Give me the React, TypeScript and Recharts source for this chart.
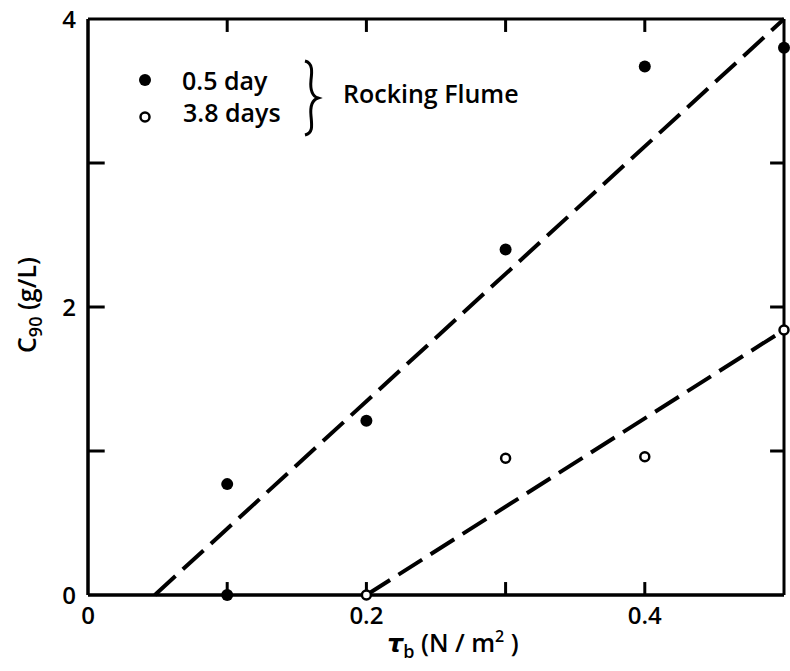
import React from 'react';
import { ComposedChart, XAxis, YAxis, Scatter, Line, ReferenceLine } from 'recharts';

const xTicks = [0.1, 0.2, 0.3, 0.4];
const xLabelTicks = [0, 0.2, 0.4];
const yTicks = [1, 2, 3];
const yLabelTicks = [0, 2, 4];

const halfDayX = [0.1, 0.1, 0.2, 0.3, 0.4, 0.5];
const halfDayY = [0, 0.77, 1.21, 2.4, 3.67, 3.8];
const days38X = [0.2, 0.3, 0.4, 0.5];
const days38Y = [0, 0.95, 0.96, 1.84];
const fitHalfX = [0.048, 0.5];
const fitHalfY = [0, 4];
const fit38X = [0.2, 0.5];
const fit38Y = [0, 1.84];

const zip = (xs: number[], ys: number[]) => xs.map((x, i) => ({ x, y: ys[i] }));
const halfDay = zip(halfDayX, halfDayY);
const days38 = zip(days38X, days38Y);
const fitHalf = zip(fitHalfX, fitHalfY);
const fit38 = zip(fit38X, fit38Y);

const FONT = '"Open Sans", "Liberation Sans", Arial, sans-serif';

const FilledDot = (p: any) => <circle cx={p.cx} cy={p.cy} r={6} fill="#000" />;
const OpenDot = (p: any) => (
  <circle cx={p.cx} cy={p.cy} r={4.5} fill="#fff" stroke="#000" strokeWidth={2.5} />
);

const tickStyle = { fill: '#000', fontSize: 24, fontFamily: FONT, fontWeight: 600 };

export default function App() {
  const W = 790;
  const H = 671;
  return (
    <div style={{ position: 'absolute', left: 0, top: 0, width: W, height: H, background: '#fff' }}>
      <ComposedChart
        width={W}
        height={H}
        margin={{ top: 19, right: 6, bottom: 36, left: 28 }}
      >
        <XAxis
          type="number"
          dataKey="x"
          domain={[0, 0.5]}
          ticks={xLabelTicks}
          tickFormatter={(v: number) => (v === 0 ? '0' : String(v))}
          height={40}
          tickLine={false}
          tickSize={0}
          tickMargin={12}
          axisLine={{ stroke: '#000', strokeWidth: 3 }}
          stroke="#000"
          strokeWidth={3}
          tick={tickStyle}
        />
        <YAxis
          type="number"
          dataKey="y"
          domain={[0, 4]}
          ticks={yLabelTicks}
          width={60}
          tickLine={false}
          tickSize={0}
          tickMargin={12}
          axisLine={{ stroke: '#000', strokeWidth: 3 }}
          stroke="#000"
          strokeWidth={3}
          tick={tickStyle}
        />
        <ReferenceLine y={4} stroke="#000" strokeWidth={3} />
        <ReferenceLine x={0.5} stroke="#000" strokeWidth={3} />
        <ReferenceLine x={0} stroke="#000" strokeWidth={3} />
        <ReferenceLine y={0} stroke="#000" strokeWidth={3} />
        {xTicks.map((t) => (
          <ReferenceLine key={'b' + t} segment={[{ x: t, y: 0 }, { x: t, y: 0.09 }]} stroke="#000" strokeWidth={3} />
        ))}
        {xTicks.map((t) => (
          <ReferenceLine key={'t' + t} segment={[{ x: t, y: 4 }, { x: t, y: 3.91 }]} stroke="#000" strokeWidth={3} />
        ))}
        {yTicks.map((t) => (
          <ReferenceLine key={'l' + t} segment={[{ x: 0, y: t }, { x: 0.012, y: t }]} stroke="#000" strokeWidth={3} />
        ))}
        {yTicks.map((t) => (
          <ReferenceLine key={'r' + t} segment={[{ x: 0.5, y: t }, { x: 0.49, y: t }]} stroke="#000" strokeWidth={3} />
        ))}
        <Line
          data={fitHalf}
          dataKey="y"
          stroke="#000"
          strokeWidth={4}
          strokeDasharray="28 10"
          dot={false}
          activeDot={false}
          isAnimationActive={false}
        />
        <Line
          data={fit38}
          dataKey="y"
          stroke="#000"
          strokeWidth={4}
          strokeDasharray="28 10"
          dot={false}
          activeDot={false}
          isAnimationActive={false}
        />
        <Scatter data={halfDay} shape={FilledDot} isAnimationActive={false} />
        <Scatter data={days38} shape={OpenDot} isAnimationActive={false} />
      </ComposedChart>
      <svg
        width={W}
        height={H}
        style={{ position: 'absolute', left: 0, top: 0, pointerEvents: 'none' }}
        fontFamily={FONT}
        fontWeight={600}
      >
        <circle cx={145} cy={80} r={6} fill="#000" />
        <circle cx={145} cy={117} r={4.5} fill="#fff" stroke="#000" strokeWidth={2.5} />
        <text x={182} y={90} fontSize={25} fill="#000">0.5 day</text>
        <text x={183} y={122} fontSize={25} fill="#000">3.8 days</text>
        <path
          d="M305,61 C313,63 312,72 311,80 C310,90 312,96 318,98 C312,100 310,106 311,116 C312,126 313,133 305,135"
          fill="none"
          stroke="#000"
          strokeWidth={3}
        />
        <text x={343} y={103} fontSize={25} fill="#000">Rocking Flume</text>
        <text transform="rotate(-90, 36, 305)" x={36} y={305} fontSize={25} fill="#000" textAnchor="middle">
          <tspan>C</tspan>
          <tspan fontSize={18} dy={6}>90</tspan>
          <tspan dy={-6}> (g/L)</tspan>
        </text>
        <text x={453} y={652} fontSize={25} fill="#000" textAnchor="middle">
          <tspan fontFamily='"DejaVu Sans", sans-serif' fontStyle="italic">τ</tspan>
          <tspan fontSize={18} dy={6}>b</tspan>
          <tspan dy={-6}> (N / m</tspan>
          <tspan fontSize={16} dy={-10}>2</tspan>
          <tspan dy={10}> )</tspan>
        </text>
      </svg>
    </div>
  );
}
